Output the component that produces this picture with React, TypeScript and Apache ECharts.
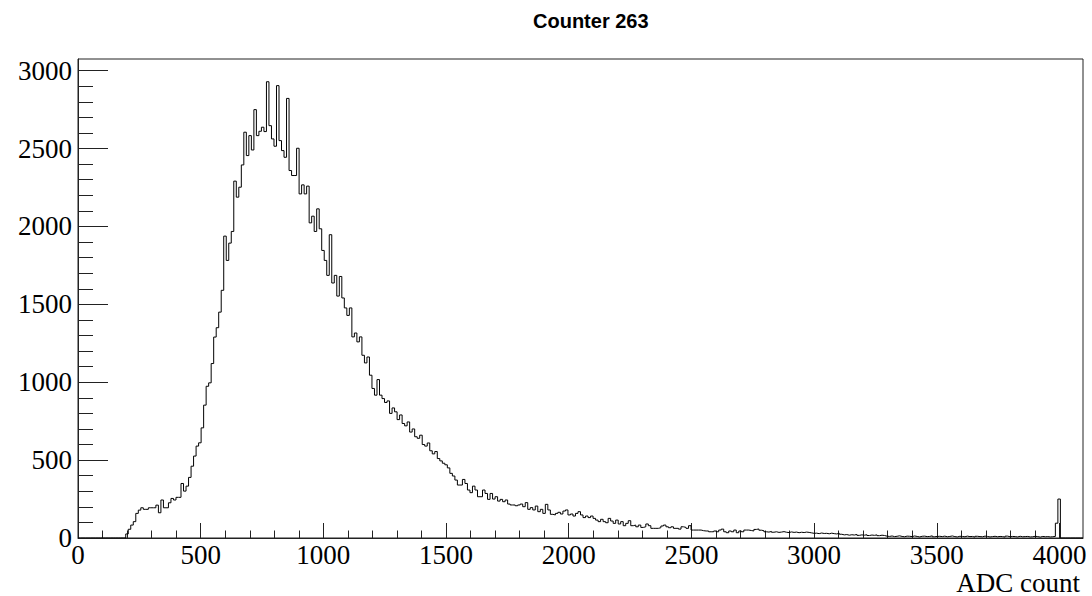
import React, { useEffect, useRef } from "react";
import * as echarts from "echarts";

const TITLE = "Counter 263";
const X_TITLE = "ADC count";
const X_MIN = 0;
const X_MAX = 4096;
const N_BINS = 400;
const Y_MAX = 3075;
const X_MAJOR = [0, 500, 1000, 1500, 2000, 2500, 3000, 3500, 4000];
const X_MINOR = Array.from({ length: 41 }, (_, i) => i * 100);
const Y_MAJOR = [0, 500, 1000, 1500, 2000, 2500, 3000];
const Y_MINOR = Array.from({ length: 31 }, (_, i) => i * 100);

// bin contents, bin i covers [i*10.24, (i+1)*10.24)
const COUNTS_0_56 = [
  0, 0, 0, 0, 0, 0, 0, 0, 0, 0, 0, 0, 0, 0, 0, 0, 0, 0, 0,
  26, 56, 83, 105, 158, 179, 194, 184, 184, 194, 194, 194, 211, 162, 244, 194, 194,
  226, 254, 244, 261, 261, 350, 301, 333, 389, 461, 526, 590, 611, 707, 853, 974,
  996, 1120, 1290, 1350, 1450,
];
const COUNTS_57_121 = [
  1590, 1938, 1782, 1893, 1968, 2291, 2188, 2252, 2395, 2605, 2455, 2583, 2491,
  2750, 2583, 2611, 2637, 2609, 2929, 2647, 2562, 2515, 2904, 2551, 2487, 2444,
  2822, 2359, 2327, 2327, 2502, 2209, 2267, 2209, 2259, 2023, 2066, 1968, 2113,
  1985, 1846, 1782, 1686, 1947, 1637, 1686, 1553, 1679, 1541, 1477, 1429, 1477,
  1291, 1316, 1259, 1291, 1173, 1124, 1162, 1045, 960, 917, 1017, 917, 895,
];
const COUNTS_122_147 = [
  870, 880, 800, 835, 810, 760, 790, 735, 720, 745, 680, 700, 650, 640, 660, 600,
  590, 610, 560, 540, 555, 510, 495, 480, 470, 450,
];
const COUNTS_148_266 = [
  415, 398, 372, 340, 340, 376, 350, 308, 291, 333, 308, 265, 265, 308, 286, 248,
  286, 250, 265, 237, 248, 233, 244, 218, 212, 212, 207, 212, 218, 201, 227, 184,
  195, 180, 205, 169, 184, 158, 216, 180, 152, 148, 158, 165, 154, 173, 180, 148,
  154, 141, 158, 169, 148, 131, 141, 131, 141, 126, 115, 105, 120, 105, 98, 126,
  109, 94, 115, 90, 105, 79, 94, 111, 79, 83, 72, 83, 68, 72, 90, 79, 62, 62, 62,
  66, 77, 83, 72, 66, 72, 62, 62, 57, 72, 68, 62, 79, 51, 51, 51, 51, 47, 45, 45,
  40, 40, 45, 40, 51, 57, 40, 34, 45, 40, 51, 34, 45, 40, 51, 51,
];
const COUNTS_267_399 = [
  48, 45, 55, 58, 50, 47, 40, 38, 42, 37, 40, 36, 38, 41, 37, 35, 39, 36, 38, 34,
  37, 35, 38, 36, 33, 30, 31, 28, 32, 29, 30, 27, 31, 28, 26, 30, 24, 20, 22, 18,
  21, 19, 23, 17, 20, 18, 21, 16, 19, 17, 20, 15, 18, 16,
  12, 10, 13, 9, 11, 14, 10, 8, 12, 11, 9, 13, 10, 7, 11, 12, 9, 10, 14, 8, 10, 11,
  9, 12, 8, 10, 13, 9, 7, 11, 10, 8, 12, 9, 10, 6, 11, 9, 8, 12, 10, 7, 9, 11, 8,
  10, 9, 6, 12, 8, 10, 9, 7, 11, 8, 9, 10, 7, 8, 11, 9, 6, 10, 8, 9, 7, 8, 10,
  95, 250, 0, 0, 0, 0, 0, 0, 0, 0, 0,
];

const COUNTS = [
  ...COUNTS_0_56,
  ...COUNTS_57_121,
  ...COUNTS_122_147,
  ...COUNTS_148_266,
  ...COUNTS_267_399,
];

const SERIF = "'Liberation Serif', 'Times New Roman', serif";

export default function App() {
  const ref = useRef<HTMLDivElement>(null);
  useEffect(() => {
    if (!ref.current) return;
    const chart = echarts.init(ref.current, undefined, { renderer: "svg" });
    const binW = (X_MAX - X_MIN) / N_BINS;
    const data: number[][] = COUNTS.slice(0, N_BINS).map((v, i) => [X_MIN + i * binW, v]);
    data.push([X_MAX, 0]);

    const fmt = (v: number) => String(v);
    const labelStyle = { fontFamily: SERIF, fontSize: 27, color: "#000", formatter: fmt };
    chart.setOption({
      animation: false,
      backgroundColor: "#fff",
      title: {
        text: TITLE,
        left: 528,
        top: 6,
        textStyle: {
          fontFamily: "'Liberation Sans', Arial, sans-serif",
          fontWeight: "bold",
          fontSize: 20,
          color: "#000",
        },
      },
      grid: {
        left: 78,
        right: 9,
        top: 59,
        bottom: 58,
        show: true,
        borderColor: "#222",
        borderWidth: 1,
        backgroundColor: "transparent",
      },
      xAxis: [
        {
          type: "value",
          min: X_MIN,
          max: X_MAX,
          position: "bottom",
          splitLine: { show: false },
          axisLine: { show: true, onZero: false, lineStyle: { color: "#222", width: 1 } },
          axisTick: { show: true, inside: true, length: 15, customValues: X_MAJOR, lineStyle: { color: "#222" } },
          axisLabel: { ...labelStyle, margin: 4, lineHeight: 26, customValues: X_MAJOR },
        },
        {
          type: "value",
          min: X_MIN,
          max: X_MAX,
          position: "bottom",
          splitLine: { show: false },
          axisLine: { show: false, onZero: false },
          axisTick: { show: true, inside: true, length: 7.5, customValues: X_MINOR, lineStyle: { color: "#222" } },
          axisLabel: { show: false },
        },
      ],
      yAxis: [
        {
          type: "value",
          min: 0,
          max: Y_MAX,
          position: "left",
          splitLine: { show: false },
          axisLine: { show: true, onZero: false, lineStyle: { color: "#222", width: 1 } },
          axisTick: { show: true, inside: true, length: 30, customValues: Y_MAJOR, lineStyle: { color: "#222" } },
          axisLabel: { ...labelStyle, margin: 6, customValues: Y_MAJOR },
        },
        {
          type: "value",
          min: 0,
          max: Y_MAX,
          position: "left",
          splitLine: { show: false },
          axisLine: { show: false, onZero: false },
          axisTick: { show: true, inside: true, length: 15, customValues: Y_MINOR, lineStyle: { color: "#222" } },
          axisLabel: { show: false },
        },
      ],
      graphic: [
        {
          type: "text",
          right: 12,
          top: 569,
          style: { text: X_TITLE, font: `27px ${SERIF}`, fill: "#000", lineHeight: 27 },
        },
      ],
      series: [
        {
          type: "line",
          xAxisIndex: 0,
          yAxisIndex: 0,
          data,
          step: "end",
          symbol: "none",
          lineStyle: { color: "#000", width: 1 },
          silent: true,
        },
      ],
    });
    return () => chart.dispose();
  }, []);
  return (
    <div
      ref={ref}
      style={{ position: "fixed", left: 0, top: 0, width: 1092, height: 596, background: "#fff" }}
    />
  );
}
